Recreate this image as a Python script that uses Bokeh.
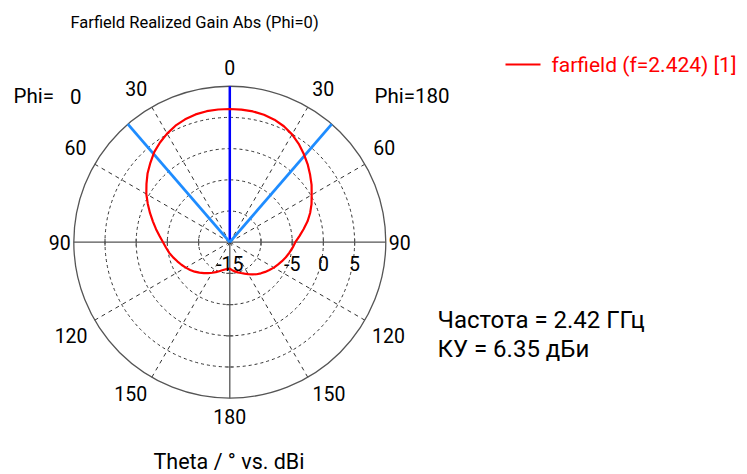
import numpy as np
from bokeh.plotting import figure
from bokeh.models import Range1d
from bokeh.embed import file_html
from bokeh.resources import INLINE
from bokeh.core.properties import value

# ---- data -------------------------------------------------------------
theta_deg = list(range(0, 181, 5))
# realized gain (dBi) on the Phi=0 half (drawn on the left)
gain_phi0 = [6.35, 6.35, 6.32, 6.20, 5.95, 5.60, 5.10, 4.50, 3.85, 3.00,
             2.20, 1.30, 0.45, -0.50, -1.40, -2.25, -3.00, -3.70, -4.30, -4.75,
             -5.15, -5.60, -6.05, -6.45, -6.85, -7.25, -7.65, -8.10, -8.55, -8.95,
             -9.35, -9.70, -10.05, -10.35, -10.55, -10.70, -10.75]
# realized gain (dBi) on the Phi=180 half (drawn on the right)
gain_phi180 = [6.35, 6.33, 6.28, 6.15, 5.90, 5.50, 4.95, 4.25, 3.45, 2.65,
               1.80, 1.00, 0.15, -0.55, -1.30, -2.10, -3.00, -3.80, -4.50, -4.90,
               -5.30, -5.70, -6.10, -6.50, -6.85, -7.25, -7.60, -7.95, -8.30, -8.70,
               -9.10, -9.45, -9.75, -10.00, -10.25, -10.50, -10.75]

r_min, r_max = -15.0, 10.0
ring_levels = [-10, -5, 0, 5]
radial_label_levels = [-15, -5, 0, 5]
radial_labels = ["-15", "-5", "0", "5"]
angle_ticks = [0, 30, 60, 90, 120, 150, 180]
spoke_angles = [30, 60, 120, 150]
main_lobe_dir = 0.0
beam_edges = [-40.8, 40.8]
freq_ghz = 2.42
max_gain = 6.35
legend_label = "farfield (f=2.424) [1]"
title_text = "Farfield Realized Gain Abs (Phi=0)"
axis_title = "Theta / \u00b0 vs. dBi"

# ---- geometry ---------------------------------------------------------
W, H = 747, 474
CX, CY = 229.3, 241.7      # pixel position of the pole
PX = 6.24                  # pixels per dB
FONT = value("Roboto")
INK = "#000000"

# where each angle label sits: (angular nudge in degrees, distance from pole in px)
LABEL_PLACE = {0: (0.0, 175), 30: (1.3, 180), 60: (-1.5, 181), 90: (0.0, 170),
               120: (0.4, 184), 150: (-3.2, 181), 180: (0.0, 174.5)}


def at(px, py):
    """pixel position on the page -> data coordinates"""
    return (px - CX) / PX, (CY - py) / PX


def polar(level, ang):
    rho = np.asarray(level, dtype=float) - r_min
    a = np.radians(ang)
    return rho * np.sin(a), rho * np.cos(a)


R = r_max - r_min

p = figure(width=W, height=H, output_backend="svg", toolbar_location=None,
           x_range=Range1d(-CX / PX, (W - CX) / PX),
           y_range=Range1d(-(H - CY) / PX, CY / PX),
           x_axis_type=None, y_axis_type=None, min_border=0,
           outline_line_color=None, background_fill_color="white",
           border_fill_color="white")
p.grid.visible = False

# dashed rings
for lv in ring_levels:
    p.circle(x=0, y=0, radius=lv - r_min, fill_color=None, line_color="#333333",
             line_width=1, line_dash="3 3")

# dashed spokes
for a in spoke_angles:
    for s in (-1, 1):
        x1, y1 = polar(r_max, s * a)
        p.segment(x0=0, y0=0, x1=float(x1), y1=float(y1), line_color="#333333",
                  line_width=1, line_dash="4 4")

# outer circle and solid axes
p.circle(x=0, y=0, radius=R, fill_color=None, line_color="#555555", line_width=1.3)
p.segment(x0=-R, y0=0, x1=R, y1=0, line_color="#555555", line_width=1.3)
p.segment(x0=0, y0=0, x1=0, y1=-R, line_color="#555555", line_width=1.3)

# small ticks where the rings cross the axes
tk = 3.5 / PX
for lv in ring_levels:
    d = lv - r_min
    p.segment(x0=[d, -d], y0=[-tk, -tk], x1=[d, -d], y1=[tk, tk],
              line_color="#555555", line_width=1.2)
    p.segment(x0=-tk, y0=-d, x1=tk, y1=-d, line_color="#555555", line_width=1.2)

# main lobe direction and 3 dB beam edges
bx, by = polar(r_max, main_lobe_dir)
p.segment(x0=0, y0=0, x1=float(bx), y1=float(by), line_color="#0000ff", line_width=2.5)
for e in beam_edges:
    ex, ey = polar(r_max, e)
    p.segment(x0=0, y0=0, x1=float(ex), y1=float(ey), line_color="#1e8cff", line_width=2.8)

# radiation pattern: Phi=180 half to the right, Phi=0 half to the left
xr, yr = polar(gain_phi180, theta_deg)
xl, yl = polar(gain_phi0, theta_deg)
xs = np.concatenate([xr, -xl[::-1]])
ys = np.concatenate([yr, yl[::-1]])
p.line(xs, ys, line_color="#ff0000", line_width=2.2)

# angle labels
for a in angle_ticks:
    nudge, rp = LABEL_PLACE[a]
    ang = np.radians(a + nudge)
    sides = (1,) if a in (0, 180) else (-1, 1)
    for s in sides:
        x = s * rp * np.sin(ang) / PX
        y = rp * np.cos(ang) / PX
        p.text(x=[x], y=[y], text=[str(a)], text_font=FONT, text_font_size="19.5px",
               text_align="center", text_baseline="middle", text_color=INK)

# radial labels below the horizontal axis
for lv, lab in zip(radial_label_levels, radial_labels):
    p.text(x=[lv - r_min], y=[-21.5 / PX], text=[lab], text_font=FONT,
           text_font_size="19.5px", text_align="center", text_baseline="middle",
           text_color=INK)


def label(px, py, txt, size, color=INK, align="left"):
    x, y = at(px, py)
    p.text(x=[x], y=[y], text=[txt], text_font=FONT, text_font_size=size,
           text_align=align, text_baseline="middle", text_color=color)


label(70, 22, title_text, "16.5px")
label(13, 95.5, "Phi=", "20.5px")
label(75.3, 95.5, "0", "20.5px", align="center")
label(374, 95.5, "Phi=180", "20.5px")
label(437, 319, "\u0427\u0430\u0441\u0442\u043e\u0442\u0430 = %.2f \u0413\u0413\u0446" % freq_ghz, "24px")
label(437, 348, "\u041a\u0423 = %.2f \u0434\u0411\u0438" % max_gain, "24px")
label(228.5, 460.5, axis_title, "21.5px", align="center")

# legend
lx0, ly = at(505, 64)
lx1, _ = at(540, 64)
p.segment(x0=lx0, y0=ly, x1=lx1, y1=ly, line_color="#ff0000", line_width=2)
label(551, 64, legend_label, "21px", color="#ff0000")

open("out.html", "w").write(file_html(p, INLINE))
